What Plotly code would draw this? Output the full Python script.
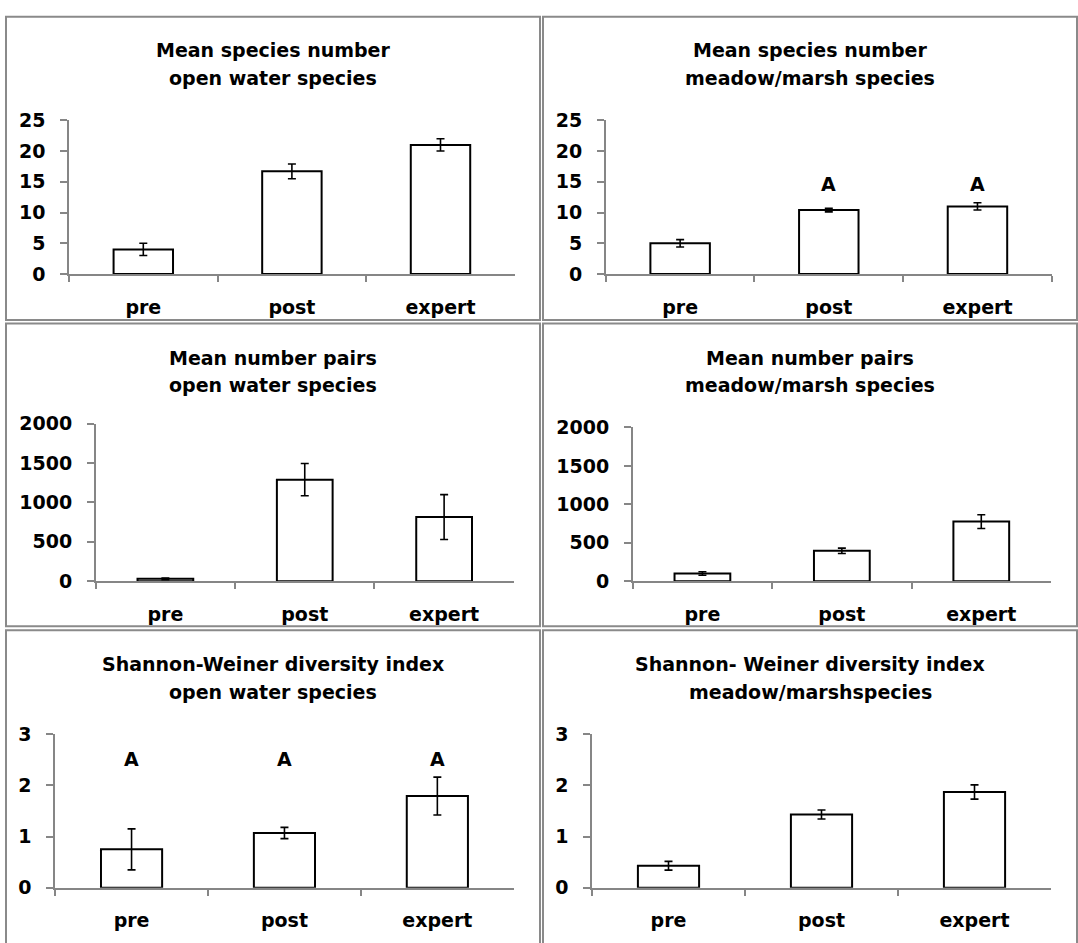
import plotly.graph_objects as go

W, H = 1078, 943

categories = ["pre", "post", "expert"]

species_open = [4.0, 16.7, 21.0]
species_open_err = [1.0, 1.2, 1.0]
species_meadow = [5.0, 10.4, 11.0]
species_meadow_err = [0.6, 0.3, 0.6]
pairs_open = [30, 1290, 815]
pairs_open_err = [10, 205, 285]
pairs_meadow = [100, 395, 775]
pairs_meadow_err = [22, 35, 90]
shannon_open = [0.75, 1.07, 1.79]
shannon_open_err = [0.40, 0.11, 0.37]
shannon_meadow = [0.43, 1.43, 1.87]
shannon_meadow_err = [0.085, 0.087, 0.14]

titles = [
    ("Mean species number", "open water species"),
    ("Mean species number", "meadow/marsh species"),
    ("Mean number pairs", "open water species"),
    ("Mean number pairs", "meadow/marsh species"),
    ("Shannon-Weiner diversity index", "open water species"),
    ("Shannon- Weiner diversity index", "meadow/marshspecies"),
]
y_ranges = [(0, 25, 5), (0, 25, 5), (0, 2000, 500), (0, 2000, 500), (0, 3, 1), (0, 3, 1)]
letters = [None, [None, "A", "A"], None, None, ["A", "A", "A"], None]
letter_y = [None, 14.6, None, None, 2.51, None]

series = [
    (species_open, species_open_err),
    (species_meadow, species_meadow_err),
    (pairs_open, pairs_open_err),
    (pairs_meadow, pairs_meadow_err),
    (shannon_open, shannon_open_err),
    (shannon_meadow, shannon_meadow_err),
]

# layout geometry in pixels
x_doms = [(69, 514.8), (605.8, 1051.8), (95.7, 513.8), (632.7, 1051), (55.1, 513.8), (592, 1051)]
y_doms = [(111.9, 269.3), (111.9, 269.3), (422.6, 583.8), (426.4, 583.8), (740.4, 897.7), (740.4, 897.7)]
panels = [(6, 6, 540, 316.5), (543, 6, 1077, 316.5),
          (6, 320, 540, 630), (543, 320, 1077, 630),
          (6, 634, 540, 960), (543, 634, 1077, 960)]
title_y = [(39.6, 68.2), (39.6, 68.2), (354.8, 383), (354.8, 383), (669, 697.3), (669, 697.3)]

FONT = "DejaVu Sans"
FS = 19
AXIS_COLOR = "#868686"
BORDER = "#8a8a8a"

def px(x):
    return x / W

def py(y):
    return 1 - y / H

fig = go.Figure()
layout = dict(
    width=W, height=H, autosize=False,
    margin=dict(l=0, r=0, t=0, b=0),
    paper_bgcolor="white", plot_bgcolor="white",
    showlegend=False,
    font=dict(family=FONT, size=FS, color="black"),
    annotations=[], shapes=[],
)

for i in range(6):
    xa = "x" if i == 0 else f"x{i+1}"
    ya = "y" if i == 0 else f"y{i+1}"
    vals, errs = series[i]
    fig.add_trace(go.Bar(
        x=categories, y=vals, xaxis=xa, yaxis=ya, width=0.4,
        marker=dict(color="white", line=dict(color="black", width=2)),
        error_y=dict(type="data", array=errs, visible=True, color="black", thickness=1.6, width=4),
        hoverinfo="skip",
    ))
    xk = "xaxis" if i == 0 else f"xaxis{i+1}"
    yk = "yaxis" if i == 0 else f"yaxis{i+1}"
    x0, x1 = x_doms[i]
    y0, y1 = y_doms[i]
    lo, hi, dt = y_ranges[i]
    layout[xk] = dict(
        domain=[px(x0), px(x1)], anchor=ya, type="category",
        categoryorder="array", categoryarray=categories,
        range=[-0.5, 2.5], showgrid=False, zeroline=False,
        showline=True, linecolor=AXIS_COLOR, linewidth=1.5,
        ticks="outside", tickson="boundaries", ticklen=6, tickwidth=1.5, tickcolor=AXIS_COLOR,
        tickfont=dict(family=FONT, size=FS, color="black", weight="bold"),
        ticklabelstandoff=15, fixedrange=True,
    )
    layout[yk] = dict(
        domain=[py(y1), py(y0)], anchor=xa, range=[lo, hi], dtick=dt, tick0=0,
        showgrid=False, zeroline=False,
        showline=True, linecolor=AXIS_COLOR, linewidth=1.5,
        ticks="outside", ticklen=7, tickwidth=1.5, tickcolor=AXIS_COLOR,
        tickfont=dict(family=FONT, size=FS, color="black", weight="bold"),
        ticklabelstandoff=11, fixedrange=True,
    )
    # panel border
    bx0, by0, bx1, by1 = panels[i]
    layout["shapes"].append(dict(
        type="rect", xref="paper", yref="paper",
        x0=px(bx0), x1=px(bx1), y0=py(by1), y1=py(by0),
        line=dict(color=BORDER, width=2), fillcolor="rgba(0,0,0,0)", layer="below",
    ))
    # titles
    cx = (bx0 + bx1) / 2
    for line, ty in zip(titles[i], title_y[i]):
        layout["annotations"].append(dict(
            text=line, xref="paper", yref="paper", x=px(cx), y=py(ty),
            xanchor="center", yanchor="middle", showarrow=False,
            font=dict(family=FONT, size=FS, color="black", weight="bold"),
        ))
    # significance letters
    if letters[i]:
        for cat, lt in zip(categories, letters[i]):
            if lt:
                layout["annotations"].append(dict(
                    text=lt, xref=xa, yref=ya, x=cat, y=letter_y[i],
                    xanchor="center", yanchor="middle", showarrow=False,
                    font=dict(family=FONT, size=FS, color="black", weight="bold"),
                ))

fig.update_layout(**layout)

post = (
    "document.documentElement.style.margin='0';"
    "document.documentElement.style.overflow='hidden';"
    "document.body.style.margin='0';"
    "document.body.style.overflow='hidden';"
    "var d=document.getElementById('{plot_id}');"
    "d.style.position='absolute';d.style.left='0px';d.style.top='0px';"
)
fig.write_html("out.html", post_script=post, config={"displayModeBar": False})
